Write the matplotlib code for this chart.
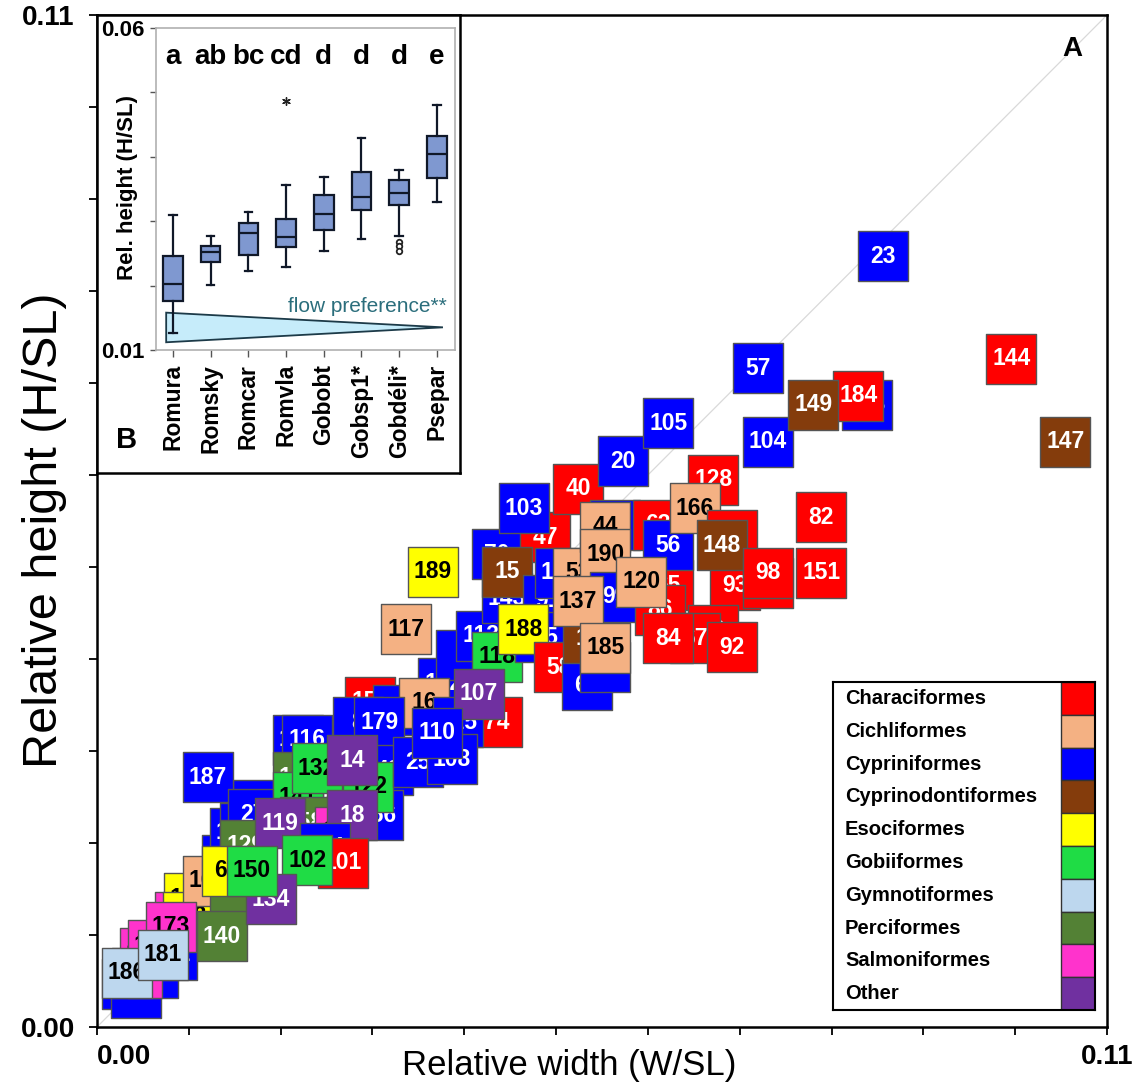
import matplotlib
matplotlib.use('Agg')
import matplotlib.pyplot as plt
import numpy as np

plt.rcParams['font.family'] = ['Liberation Sans', 'DejaVu Sans']

# ---------------- data ----------------
order_names = ['Characiformes', 'Cichliformes', 'Cypriniformes', 'Cyprinodontiformes',
               'Esociformes', 'Gobiiformes', 'Gymnotiformes', 'Perciformes',
               'Salmoniformes', 'Other']
order_codes = ['Cha', 'Cic', 'Cyp', 'Cyd', 'Eso', 'Gob', 'Gym', 'Per', 'Sal', 'Oth']
order_colors = ['#ff0000', '#f4b183', '#0000ff', '#843c0c', '#ffff00',
                '#1fdc45', '#bdd7ee', '#538135', '#ff33cc', '#7030a0']
order_text_colors = ['white', 'black', 'white', 'white', 'black',
                     'black', 'black', 'white', 'black', 'white']

# species in drawing order (later ones on top)
species_id = [
    '176', '175', '174', '171', '177', '178', '172', '170', '169', '168', '167', '139',
    '186', '173', '181', '140',
    '165', '164', '163', '162', '187', '27', '129', '64', '161', '116', '146', '141',
    '132', '158', '119',
    '152', '7', '159', '153', '16', '8', '179', '42', '156', '122', '14', '155', '18',
    '154', '101', '102', '134', '150',
    '113', '118', '74', '125', '107', '25', '108', '110',
    '189', '117', '70', '143', '47', '15', '103', '40', '20', '105', '91', '138', '115', '188',
    '58', '60', '157', '19', '76', '63', '128', '53', '44', '190', '99', '137', '185',
    '65', '86', '56', '120', '166', '97', '93', '148', '59', '67', '84', '94', '98', '92',
    '151', '82',
    '57', '104', '183', '184', '149', '23', '144', '147']
species_order = [
    'Cyp', 'Cyp', 'Cyp', 'Cyp', 'Sal', 'Sal', 'Sal', 'Sal', 'Eso', 'Eso', 'Cic', 'Per',
    'Gym', 'Sal', 'Gym', 'Per',
    'Cyp', 'Cyp', 'Cyp', 'Cyp', 'Cyp', 'Cyp', 'Per', 'Eso', 'Cyp', 'Cyp', 'Per', 'Gob',
    'Gob', 'Per', 'Oth',
    'Cyp', 'Cyp', 'Cha', 'Cyp', 'Cic', 'Cyp', 'Cyp', 'Cyp', 'Cyp', 'Gob', 'Oth', 'Sal', 'Oth',
    'Cyp', 'Cha', 'Gob', 'Oth', 'Gob',
    'Cyp', 'Gob', 'Cha', 'Cyp', 'Oth', 'Cyp', 'Cyp', 'Cyp',
    'Eso', 'Cic', 'Cyp', 'Cyp', 'Cha', 'Cyd', 'Cyp', 'Cha', 'Cyp', 'Cyp', 'Cyp', 'Cyp', 'Cyp', 'Eso',
    'Cha', 'Cyp', 'Cyp', 'Cyd', 'Cyp', 'Cha', 'Cha', 'Cic', 'Cic', 'Cic', 'Cyp', 'Cic', 'Cic',
    'Cha', 'Cha', 'Cyp', 'Cic', 'Cic', 'Cha', 'Cha', 'Cyd', 'Cha', 'Cha', 'Cha', 'Cha', 'Cha', 'Cha',
    'Cha', 'Cha',
    'Cyp', 'Cyp', 'Cyp', 'Cha', 'Cyd', 'Cyp', 'Cha', 'Cyd']
rel_width = [
    0.00327, 0.00425, 0.00610, 0.00817, 0.00436, 0.00523, 0.00610, 0.00904, 0.01002, 0.00991, 0.01209, 0.01503,
    0.00327, 0.00806, 0.00719, 0.01362,
    0.01416, 0.01503, 0.01612, 0.01754, 0.01209, 0.01699, 0.01612, 0.01416, 0.02190, 0.02288, 0.02190, 0.02190,
    0.02396, 0.02266, 0.01993,
    0.03769, 0.03965, 0.02974, 0.03279, 0.03562, 0.02843, 0.03072, 0.03170, 0.03061, 0.02952, 0.02778, 0.02647, 0.02778,
    0.02484, 0.02680, 0.02288, 0.01895, 0.01688,
    0.04183, 0.04357, 0.04357, 0.03932, 0.04161, 0.03497, 0.03867, 0.03704,
    0.03660, 0.03366, 0.04357, 0.04466, 0.04880, 0.04466, 0.04651, 0.05240, 0.05730, 0.06220, 0.04913, 0.05044, 0.04826, 0.04641,
    0.05033, 0.05338, 0.05534, 0.05349, 0.05643, 0.06111, 0.06710, 0.05240, 0.05534, 0.05534, 0.05643, 0.05240, 0.05534,
    0.06220, 0.06133, 0.06220, 0.05926, 0.06514, 0.06917, 0.06950, 0.06808, 0.06710, 0.06514, 0.06220, 0.07309, 0.07309, 0.06917,
    0.07887, 0.07887,
    0.07200, 0.07309, 0.08388, 0.08290, 0.07800, 0.08562, 0.09956, 0.10545]
rel_height = [
    0.00467, 0.00370, 0.00587, 0.00783, 0.00587, 0.00804, 0.00891, 0.01196, 0.01402, 0.01196, 0.01587, 0.01489,
    0.00587, 0.01087, 0.00783, 0.00989,
    0.01815, 0.02109, 0.02163, 0.02413, 0.02717, 0.02315, 0.01978, 0.01696, 0.03120, 0.03120, 0.02717, 0.02500,
    0.02815, 0.02228, 0.02217,
    0.03739, 0.04043, 0.03533, 0.03446, 0.03522, 0.03315, 0.03315, 0.02793, 0.02304, 0.02609, 0.02902, 0.02120, 0.02304,
    0.01946, 0.01783, 0.01815, 0.01391, 0.01696,
    0.04250, 0.04022, 0.03315, 0.03315, 0.03620, 0.02880, 0.02913, 0.03196,
    0.04946, 0.04326, 0.05141, 0.04663, 0.05326, 0.04946, 0.05641, 0.05848, 0.06152, 0.06565, 0.04641, 0.04935, 0.04239, 0.04326,
    0.03913, 0.03717, 0.03913, 0.04228, 0.05457, 0.05457, 0.05946, 0.04935, 0.05435, 0.05141, 0.04674, 0.04630, 0.04120,
    0.04804, 0.04533, 0.05239, 0.04837, 0.05641, 0.05348, 0.04804, 0.05239, 0.04315, 0.04228, 0.04228, 0.04826, 0.04935, 0.04130,
    0.04935, 0.05543,
    0.07163, 0.06359, 0.06761, 0.06859, 0.06761, 0.08380, 0.07261, 0.06359]

# inset boxplot (panel B)
box_groups = ['Romura', 'Romsky', 'Romcar', 'Romvla', 'Gobobt', 'Gobsp1*', 'Gobdéli*', 'Psepar']
box_letters = ['a', 'ab', 'bc', 'cd', 'd', 'd', 'd', 'e']
box_whislo = [0.01269, 0.02010, 0.02228, 0.02295, 0.02534, 0.02720, 0.02772, 0.03301]
box_q1 = [0.01762, 0.02363, 0.02472, 0.02601, 0.02870, 0.03181, 0.03254, 0.03668]
box_med = [0.02021, 0.02529, 0.02813, 0.02757, 0.03119, 0.03373, 0.03440, 0.04041]
box_q3 = [0.02461, 0.02617, 0.02979, 0.03036, 0.03404, 0.03762, 0.03632, 0.04326]
box_whishi = [0.03098, 0.02772, 0.03145, 0.03560, 0.03694, 0.04290, 0.03798, 0.04808]
extreme_group = [4]
extreme_value = [0.04860]
outlier_group = [7, 7, 7]
outlier_value = [0.02680, 0.02610, 0.02545]
flow_x = [0.82, 0.82, 8.16]
flow_y = [0.0158, 0.0112, 0.01352]

# ---------------- figure ----------------
W, H = 1138, 1086
fig = plt.figure(figsize=(W / 100, H / 100), dpi=100)

def fbox(l, t, r, b):
    return [l / W, 1 - b / H, (r - l) / W, (b - t) / H]

ax = fig.add_axes(fbox(97, 15, 1107, 1027))
ax.set_xlim(0, 0.11)
ax.set_ylim(0, 0.11)
ax.plot([0, 0.11], [0, 0.11], color='#d9d9d9', lw=0.9, zorder=1)

code_idx = {c: i for i, c in enumerate(order_codes)}
for i, (sid, oc, x, y) in enumerate(zip(species_id, species_order, rel_width, rel_height)):
    k = code_idx[oc]
    ax.scatter([x], [y], marker='s', s=1340, c=order_colors[k], edgecolors='#555555',
               linewidths=1.0, zorder=2 + 2 * i)
    ax.text(x, y, sid, ha='center', va='center', fontsize=16.5, fontweight='bold',
            color=order_text_colors[k], zorder=3 + 2 * i, clip_on=True)

ticks = np.round(np.arange(0, 0.1101, 0.01), 2)
ax.set_xticks(ticks)
ax.set_yticks(ticks)
xl = ['' for _ in ticks]
xl[0] = '0.00'
xl[-1] = '0.11'
ax.set_xticklabels(xl)
ax.set_yticklabels(xl)
ax.tick_params(axis='both', direction='out', length=6, width=1.3, labelsize=20)
ax.tick_params(axis='x', pad=6)
ax.tick_params(axis='y', pad=10)
for lab in ax.get_xticklabels() + ax.get_yticklabels():
    lab.set_fontweight('bold')
ax.get_xticklabels()[0].set_horizontalalignment('left')
for sp in ax.spines.values():
    sp.set_linewidth(1.8)
    sp.set_color('black')

fig.text(569 / W, 1 - 1066 / H, 'Relative width (W/SL)', ha='center', va='center', fontsize=25)
fig.text(45 / W, 1 - 530 / H, 'Relative height (H/SL)', ha='center', va='center',
         fontsize=35, rotation=90)
fig.text(1072 / W, 1 - 49 / H, 'A', ha='center', va='center', fontsize=20, fontweight='bold')

# ---------------- inset box (panel B) ----------------
outer = fig.add_axes(fbox(97, 15, 460, 473), zorder=5)
outer.set_facecolor('white')
outer.set_xticks([])
outer.set_yticks([])
for sp in outer.spines.values():
    sp.set_linewidth(1.8)
    sp.set_color('black')

axi = fig.add_axes(fbox(156, 28, 455, 350), zorder=6)
axi.set_facecolor('white')
stats = []
for i in range(len(box_groups)):
    stats.append(dict(med=box_med[i], q1=box_q1[i], q3=box_q3[i],
                      whislo=box_whislo[i], whishi=box_whishi[i], fliers=[]))
pos = np.arange(1, len(box_groups) + 1)
axi.bxp(stats, positions=pos, widths=0.52, capwidths=0.2, showfliers=False, patch_artist=True,
        boxprops=dict(facecolor='#7f98d0', edgecolor='#101828', linewidth=1.6),
        medianprops=dict(color='#101828', linewidth=1.6),
        whiskerprops=dict(color='#101828', linewidth=1.6),
        capprops=dict(color='#101828', linewidth=1.6), zorder=3)
axi.scatter(extreme_group, extreme_value, marker=(6, 2, 0), s=30, color='#222222',
            linewidths=1.0, zorder=4)
axi.scatter(outlier_group, outlier_value, marker='o', s=16, facecolors='white',
            edgecolors='#222222', linewidths=1.3, zorder=4)
axi.fill(flow_x, flow_y, facecolor='#c6ecfa', edgecolor='#1c3a48', linewidth=1.3, zorder=2)
axi.text(8.27, 0.01674, 'flow preference**', ha='right', va='center', fontsize=15,
         color='#2b6e7c', zorder=5)
for p, lt in zip(pos, box_letters):
    axi.text(p, 0.0555, lt, ha='center', va='center', fontsize=20, fontweight='bold')
axi.set_xlim(0.55, 8.48)
axi.set_ylim(0.01, 0.06)
axi.set_yticks([0.01, 0.02, 0.03, 0.04, 0.05, 0.06])
axi.set_yticklabels(['0.01', '', '', '', '', '0.06'])
axi.set_xticks(pos)
axi.set_xticklabels(box_groups, rotation=90)
axi.tick_params(axis='y', direction='out', length=4, width=1, color='#555555', labelsize=16, pad=4)
axi.tick_params(axis='x', direction='out', length=5, width=1, color='#555555', labelsize=16.5, pad=5)
for lab in axi.get_xticklabels() + axi.get_yticklabels():
    lab.set_fontweight('bold')
for sp in axi.spines.values():
    sp.set_color('#b0b0b0')
    sp.set_linewidth(1.2)

fig.text(128 / W, 1 - 187 / H, 'Rel. height (H/SL)', ha='center', va='center',
         fontsize=16, fontweight='bold', rotation=90, zorder=10)
fig.text(127 / W, 1 - 440 / H, 'B', ha='center', va='center', fontsize=21,
         fontweight='bold', zorder=10)

# ---------------- legend ----------------
lg = fig.add_axes(fbox(833, 682, 1095, 1010), zorder=7)
lg.set_xlim(0, 262)
lg.set_ylim(len(order_names), 0)
lg.set_xticks([])
lg.set_yticks([])
lg.set_facecolor('white')
for i, (nm, col) in enumerate(zip(order_names, order_colors)):
    lg.add_patch(plt.Rectangle((228, i), 34, 1, facecolor=col, edgecolor='#333333', lw=1.0))
    lg.text(12, i + 0.5, nm, ha='left', va='center', fontsize=14.5, fontweight='bold')
for sp in lg.spines.values():
    sp.set_linewidth(1.5)
    sp.set_color('black')

fig.savefig('out.png', dpi=100)
